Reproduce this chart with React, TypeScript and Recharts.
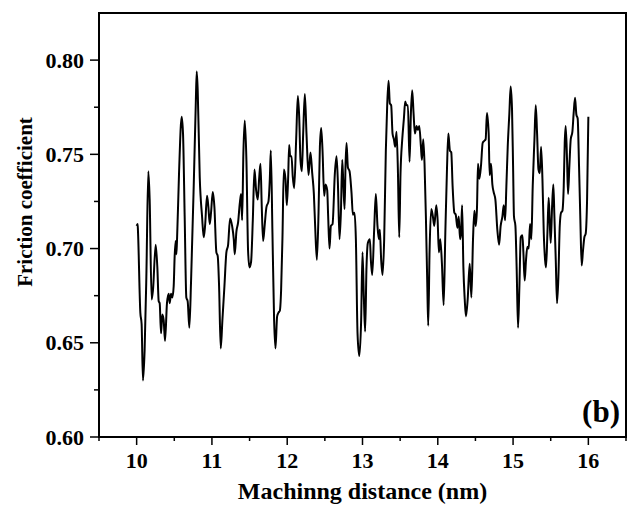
import React from 'react';
import { LineChart, Line, XAxis, YAxis, ReferenceArea, Label } from 'recharts';

// machining distance (nm)
const distance = [
  10.0, 10.013, 10.018, 10.049, 10.066, 10.084, 10.106, 10.129, 10.155, 10.173,
  10.199, 10.217, 10.253, 10.275, 10.293, 10.306, 10.324, 10.341, 10.359, 10.377,
  10.403, 10.426, 10.439, 10.457, 10.474, 10.492, 10.505, 10.519, 10.527, 10.536,
  10.563, 10.598, 10.616, 10.638, 10.66, 10.678, 10.7, 10.723, 10.758, 10.785,
  10.798, 10.811, 10.838, 10.869, 10.891, 10.909, 10.935, 10.953, 10.971, 10.988,
  11.011, 11.033, 11.059, 11.077, 11.095, 11.117, 11.139, 11.166, 11.192, 11.215,
  11.241, 11.268, 11.29, 11.303, 11.325, 11.348, 11.37, 11.387, 11.401, 11.418,
  11.436, 11.458, 11.48, 11.498, 11.52, 11.543, 11.565, 11.587, 11.609, 11.627,
  11.645, 11.662, 11.68, 11.702, 11.724, 11.751, 11.769, 11.782, 11.804, 11.826,
  11.844, 11.866, 11.884, 11.902, 11.919, 11.937, 11.955, 11.977, 11.995, 12.012,
  12.026, 12.039, 12.057, 12.074, 12.092, 12.119, 12.141, 12.159, 12.176, 12.194,
  12.212, 12.234, 12.256, 12.283, 12.309, 12.332, 12.354, 12.371, 12.394, 12.416,
  12.434, 12.451, 12.469, 12.491, 12.509, 12.531, 12.544, 12.562, 12.58, 12.602,
  12.633, 12.655, 12.673, 12.695, 12.713, 12.731, 12.744, 12.762, 12.775, 12.788,
  12.806, 12.828, 12.855, 12.872, 12.894, 12.912, 12.934, 12.957, 12.982, 13.0,
  13.018, 13.035, 13.053, 13.071, 13.098, 13.111, 13.129, 13.155, 13.177, 13.199,
  13.217, 13.23, 13.248, 13.266, 13.288, 13.31, 13.328, 13.346, 13.363, 13.381,
  13.399, 13.417, 13.434, 13.452, 13.47, 13.488, 13.505, 13.528, 13.55, 13.567,
  13.585, 13.603, 13.625, 13.643, 13.66, 13.678, 13.696, 13.718, 13.736, 13.754,
  13.776, 13.789, 13.807, 13.824, 13.842, 13.86, 13.873, 13.891, 13.913, 13.935,
  13.953, 13.98, 13.998, 14.015, 14.033, 14.055, 14.078, 14.1, 14.122, 14.14,
  14.161, 14.179, 14.197, 14.22, 14.238, 14.261, 14.278, 14.296, 14.309, 14.323,
  14.34, 14.358, 14.374, 14.397, 14.424, 14.446, 14.468, 14.486, 14.504, 14.521,
  14.534, 14.552, 14.574, 14.596, 14.614, 14.636, 14.653, 14.676, 14.689, 14.707,
  14.725, 14.742, 14.765, 14.791, 14.814, 14.835, 14.858, 14.876, 14.894, 14.911,
  14.929, 14.951, 14.968, 14.986, 15.0, 15.012, 15.031, 15.048, 15.066, 15.084,
  15.102, 15.124, 15.137, 15.154, 15.172, 15.19, 15.208, 15.225, 15.243, 15.261,
  15.284, 15.301, 15.319, 15.337, 15.355, 15.372, 15.39, 15.408, 15.425, 15.438,
  15.456, 15.473, 15.486, 15.5, 15.518, 15.535, 15.549, 15.567, 15.584, 15.602,
  15.62, 15.637, 15.655, 15.673, 15.686, 15.699, 15.717, 15.73, 15.748, 15.766,
  15.788, 15.805, 15.823, 15.841, 15.858, 15.876, 15.894, 15.911, 15.929, 15.947,
  15.965, 15.983, 16.0,
];

// friction coefficient
const friction = [
  0.712, 0.713, 0.709, 0.666, 0.66, 0.63, 0.646, 0.685, 0.741, 0.726,
  0.673, 0.678, 0.702, 0.69, 0.672, 0.671, 0.655, 0.665, 0.662, 0.651,
  0.671, 0.676, 0.671, 0.676, 0.674, 0.68, 0.696, 0.704, 0.697, 0.704,
  0.74, 0.77, 0.761, 0.717, 0.674, 0.672, 0.658, 0.683, 0.733, 0.776,
  0.794, 0.784, 0.738, 0.717, 0.706, 0.712, 0.728, 0.722, 0.713, 0.719,
  0.73, 0.722, 0.698, 0.696, 0.68, 0.647, 0.662, 0.68, 0.698, 0.702,
  0.716, 0.712, 0.705, 0.697, 0.709, 0.714, 0.724, 0.729, 0.715, 0.751,
  0.768, 0.747, 0.699, 0.69, 0.693, 0.715, 0.742, 0.731, 0.726, 0.737,
  0.745, 0.722, 0.704, 0.713, 0.722, 0.725, 0.737, 0.752, 0.708, 0.662,
  0.647, 0.664, 0.666, 0.667, 0.678, 0.706, 0.742, 0.737, 0.723, 0.737,
  0.755, 0.749, 0.749, 0.738, 0.732, 0.758, 0.781, 0.77, 0.747, 0.741,
  0.761, 0.782, 0.761, 0.739, 0.751, 0.74, 0.729, 0.712, 0.694, 0.719,
  0.754, 0.764, 0.752, 0.728, 0.734, 0.731, 0.717, 0.7, 0.712, 0.713,
  0.74, 0.749, 0.735, 0.705, 0.719, 0.747, 0.736, 0.721, 0.745, 0.756,
  0.743, 0.741, 0.729, 0.718, 0.719, 0.705, 0.655, 0.643, 0.662, 0.698,
  0.674, 0.656, 0.69, 0.703, 0.705, 0.694, 0.686, 0.71, 0.729, 0.712,
  0.705, 0.71, 0.694, 0.686, 0.705, 0.752, 0.776, 0.789, 0.777, 0.776,
  0.761, 0.758, 0.754, 0.762, 0.742, 0.706, 0.74, 0.758, 0.769, 0.778,
  0.776, 0.776, 0.746, 0.772, 0.784, 0.772, 0.761, 0.765, 0.763, 0.765,
  0.754, 0.747, 0.758, 0.745, 0.717, 0.682, 0.659, 0.699, 0.721, 0.717,
  0.712, 0.723, 0.715, 0.698, 0.705, 0.692, 0.67, 0.708, 0.742, 0.761,
  0.752, 0.751, 0.733, 0.719, 0.718, 0.711, 0.717, 0.705, 0.708, 0.723,
  0.69, 0.673, 0.664, 0.673, 0.692, 0.674, 0.705, 0.72, 0.712, 0.722,
  0.745, 0.737, 0.744, 0.756, 0.757, 0.758, 0.772, 0.761, 0.739, 0.745,
  0.734, 0.73, 0.726, 0.71, 0.702, 0.712, 0.717, 0.723, 0.715, 0.733,
  0.754, 0.772, 0.786, 0.774, 0.744, 0.717, 0.712, 0.689, 0.658, 0.68,
  0.706, 0.707, 0.698, 0.683, 0.694, 0.701, 0.7, 0.713, 0.705, 0.733,
  0.758, 0.776, 0.761, 0.742, 0.74, 0.754, 0.737, 0.708, 0.694, 0.69,
  0.708, 0.727, 0.715, 0.703, 0.722, 0.734, 0.717, 0.694, 0.671, 0.685,
  0.712, 0.719, 0.72, 0.733, 0.756, 0.765, 0.747, 0.729, 0.744, 0.758,
  0.762, 0.772, 0.78, 0.771, 0.769, 0.744, 0.715, 0.691, 0.699, 0.706,
  0.708, 0.726, 0.77,
];

const xTicks = [9.5, 10, 10.5, 11, 11.5, 12, 12.5, 13, 13.5, 14, 14.5, 15, 15.5, 16, 16.5];
const yTicks = [0.6, 0.625, 0.65, 0.675, 0.7, 0.725, 0.75, 0.775, 0.8];

const data = distance.map((d, i) => ({ d, f: friction[i] }));

const FONT = '"Liberation Serif", "Times New Roman", serif';

const XTick = (props: any) => {
  const { x, y, payload } = props;
  const major = Number.isInteger(payload.value);
  return (
    <g>
      <line x1={x} x2={x} y1={y} y2={y + (major ? 8 : 4)} stroke="#000" strokeWidth={1.5} />
      {major && (
        <text x={x} y={y + 31} textAnchor="middle" fontFamily={FONT} fontWeight="bold" fontSize={22} fill="#000">
          {payload.value}
        </text>
      )}
    </g>
  );
};

const YTick = (props: any) => {
  const { x, y, payload } = props;
  const major = Math.round(payload.value * 1000) % 50 === 0;
  return (
    <g>
      <line x1={x - (major ? 9 : 5)} x2={x} y1={y} y2={y} stroke="#000" strokeWidth={1.5} />
      {major && (
        <text x={x - 15} y={y + 7.5} textAnchor="end" fontFamily={FONT} fontWeight="bold" fontSize={22} fill="#000">
          {payload.value.toFixed(2)}
        </text>
      )}
    </g>
  );
};

const App = () => {
  return (
    <div style={{ position: 'absolute', left: 0, top: 0, background: '#fff' }}>
      <LineChart width={633} height={506} data={data} margin={{ top: 13, right: 7, left: 0, bottom: 0 }}>
        <XAxis
          dataKey="d"
          type="number"
          domain={[9.5, 16.5]}
          ticks={xTicks}
          allowDataOverflow
          height={69}
          tickSize={0}
          tickMargin={0}
          tickLine={false}
          axisLine={{ stroke: '#000', strokeWidth: 2 }}
          tick={<XTick />}
          interval={0}
        >
          <Label
            content={(p: any) => {
              const vb = p.viewBox;
              return (
                <text x={vb.x + vb.width / 2} y={vb.y + 62} textAnchor="middle" fontFamily={FONT} fontWeight="bold" fontSize={24} fill="#000">
                  Machinng distance (nm)
                </text>
              );
            }}
          />
        </XAxis>
        <YAxis
          type="number"
          domain={[0.6, 0.825]}
          ticks={yTicks}
          allowDataOverflow
          width={99}
          tickSize={0}
          tickMargin={0}
          tickLine={false}
          axisLine={{ stroke: '#000', strokeWidth: 2 }}
          tick={<YTick />}
          interval={0}
        >
          <Label
            content={() => {
              const cx = 25;
              const cy = 202;
              return (
                <text x={cx} y={cy} transform={`rotate(-90 ${cx} ${cy})`} textAnchor="middle" dominantBaseline="central" fontFamily={FONT} fontWeight="bold" fontSize={21} fill="#000">
                  Friction coefficient
                </text>
              );
            }}
          />
        </YAxis>
        <ReferenceArea x1={9.5} x2={16.5} y1={0.6} y2={0.825} fill="none" stroke="#000" strokeWidth={2}>
          <Label
            content={(p: any) => {
              const vb = p.viewBox;
              return (
                <text x={vb.x + vb.width - 6} y={vb.y + vb.height - 15} textAnchor="end" fontFamily={FONT} fontWeight="bold" fontSize={31} fill="#000">
                  (b)
                </text>
              );
            }}
          />
        </ReferenceArea>
        <Line type="monotone" dataKey="f" stroke="#000" strokeWidth={2} dot={false} isAnimationActive={false} />
      </LineChart>
    </div>
  );
};

export default App;
